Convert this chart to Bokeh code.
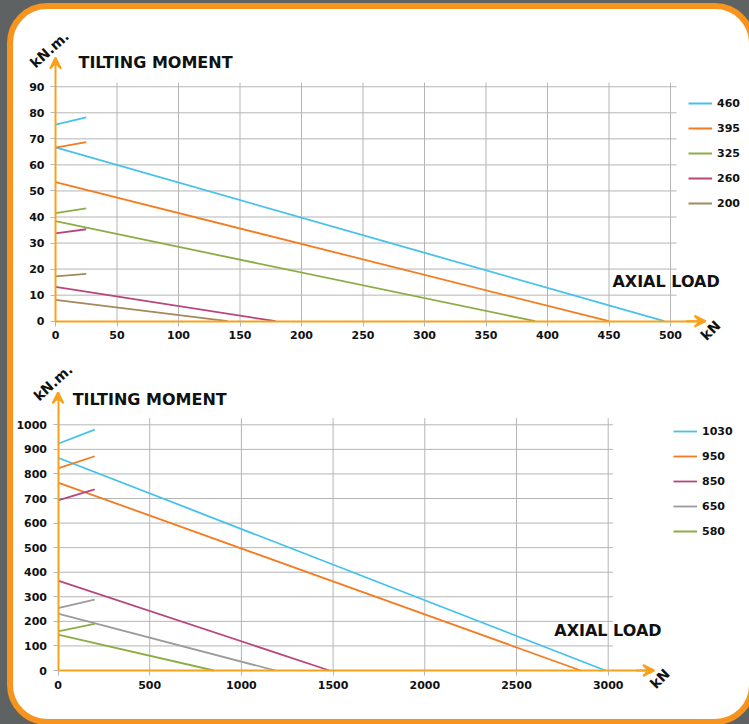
from math import pi
from bokeh.plotting import figure
from bokeh.models import (Range1d, FixedTicker, Label, Arrow, VeeHead, Legend, LegendItem, Spacer)
from bokeh.layouts import column, row
from bokeh.embed import file_html
from bokeh.resources import INLINE

# ---------------- data: upper chart ----------------
top_series = ["460", "395", "325", "260", "200"]
top_upper_x_end = [25, 25, 25, 25, 25]
top_upper_start = [75.5, 66.6, 41.5, 33.7, 17.2]
top_upper_end = [78.2, 68.7, 43.3, 35.3, 18.2]
top_main_start = [66.7, 53.4, 38.4, 13.2, 8.2]
top_main_x_end = [495, 450, 390, 179, 140]
top_xticks = [0, 50, 100, 150, 200, 250, 300, 350, 400, 450, 500]
top_yticks = [0, 10, 20, 30, 40, 50, 60, 70, 80, 90]

# ---------------- data: lower chart ----------------
bot_series = ["1030", "950", "850", "650", "580"]
bot_upper_x_end = [200, 200, 200, 200, 200]
bot_upper_start = [923, 823, 692, 254, 159]
bot_upper_end = [980, 872, 737, 288, 190]
bot_main_start = [866, 765, 366, 231, 146]
bot_main_x_end = [2985, 2850, 1480, 1185, 850]
bot_xticks = [0, 500, 1000, 1500, 2000, 2500, 3000]
bot_yticks = [0, 100, 200, 300, 400, 500, 600, 700, 800, 900, 1000]

# ---------------- styles ----------------
BLUE = "#45C2EC"
ORANGE = "#F47B20"
GREEN = "#8CAD46"
MAGENTA = "#B8467D"
BROWN = "#A3895B"
GREY = "#9B9B9B"
AXIS = "#F7A21B"
GRID = "#B5B5B5"
FRAME = "#F7941D"
BG = "#5E6263"
FONT = "DejaVu Sans"
INK = "#111111"

top_colors = [BLUE, ORANGE, GREEN, MAGENTA, BROWN]
bot_colors = [BLUE, ORANGE, MAGENTA, GREY, GREEN]


def build(cfg, series, colors, up_x, up_y0, up_y1, m_y0, m_x1, xticks, yticks):
    W, H = cfg["w"], cfg["h"]
    ox, oy = cfg["ox"], cfg["oy"]          # pixel position of the data origin
    sx, sy = cfg["sx"], cfg["sy"]          # pixels per data unit
    p = figure(width=W, height=H, output_backend="svg", toolbar_location=None,
               x_range=Range1d(-ox / sx, (W - ox) / sx),
               y_range=Range1d(-(H - oy) / sy, oy / sy),
               min_border=0, min_border_left=0, min_border_right=0,
               min_border_top=0, min_border_bottom=0)
    p.background_fill_alpha = 0
    p.border_fill_alpha = 0
    p.outline_line_color = None
    p.grid.visible = False

    # grid lines (bounded like the original)
    vx = xticks[1:]
    p.segment(x0=vx, x1=vx, y0=[0] * len(vx), y1=[cfg["vtop"]] * len(vx),
              line_color=GRID, line_width=1)
    hy = yticks[1:]
    p.segment(x0=[0] * len(hy), x1=[cfg["hright"]] * len(hy), y0=hy, y1=hy,
              line_color=GRID, line_width=1)

    items = []
    for i, name in enumerate(series):
        r = p.multi_line(xs=[[0, up_x[i]], [0, m_x1[i]]],
                         ys=[[up_y0[i], up_y1[i]], [m_y0[i], 0]],
                         line_color=colors[i], line_width=1.8)
        items.append(LegendItem(label=name, renderers=[r]))

    for ax, ticks, bnd in ((p.xaxis, xticks, (0, cfg["xarrow"])),
                           (p.yaxis, yticks, (0, cfg["yarrow"]))):
        ax.fixed_location = 0
        ax.ticker = FixedTicker(ticks=ticks)
        ax.bounds = bnd
        ax.axis_line_color = AXIS
        ax.axis_line_width = 2
        ax.major_tick_line_color = GRID
        ax.major_tick_out = 5
        ax.major_tick_in = 0
        ax.minor_tick_line_color = None
        ax.major_label_text_font = FONT
        ax.major_label_text_font_style = "bold"
        ax.major_label_text_font_size = "11px"
        ax.major_label_text_color = INK
    p.xaxis.major_label_standoff = 5
    p.yaxis.major_label_standoff = 6

    head_x = VeeHead(size=11, fill_color=AXIS, line_color=AXIS, line_width=2)
    p.add_layout(Arrow(end=head_x, x_start=cfg["xarrow"] * 0.97, y_start=0,
                       x_end=cfg["xarrow"], y_end=0, line_color=AXIS, line_width=2))
    head_y = VeeHead(size=11, fill_color=AXIS, line_color=AXIS, line_width=2)
    p.add_layout(Arrow(end=head_y, x_start=0, y_start=cfg["yarrow"] * 0.97,
                       x_end=0, y_end=cfg["yarrow"], line_color=AXIS, line_width=2))

    p.add_layout(Label(x=cfg["title_xy"][0], y=cfg["title_xy"][1], text="TILTING MOMENT",
                       text_font=FONT, text_font_style="bold", text_font_size="16px",
                       text_align="left", text_baseline="middle", text_color=INK))
    p.add_layout(Label(x=cfg["axial_xy"][0], y=cfg["axial_xy"][1], text="AXIAL LOAD",
                       text_font=FONT, text_font_style="bold", text_font_size="16px",
                       text_align="left", text_baseline="middle", text_color=INK))
    p.add_layout(Label(x=cfg["knm_xy"][0], y=cfg["knm_xy"][1], text="kN.m.",
                       text_font=FONT, text_font_style="bold", text_font_size="14px",
                       text_align="center", text_baseline="middle", angle=pi / 4.3,
                       text_color=INK))
    p.add_layout(Label(x=cfg["kn_xy"][0], y=cfg["kn_xy"][1], text="kN",
                       text_font=FONT, text_font_style="bold", text_font_size="14px",
                       text_align="center", text_baseline="middle", angle=pi / 4,
                       text_color=INK))

    legend = Legend(items=items, location=cfg["legend"], orientation="vertical",
                    glyph_width=24, glyph_height=20, label_height=20, spacing=5,
                    padding=0, margin=0, border_line_color=None, background_fill_alpha=0,
                    label_text_font=FONT, label_text_font_style="bold",
                    label_text_font_size="11px", label_standoff=5,
                    label_text_color=INK)
    p.add_layout(legend)
    return p


# figure pixel geometry (figures sit at page x=13; top one at y=9, bottom one at y=352)
top_cfg = dict(w=736, h=343, ox=42, oy=311.7, sx=1.23, sy=2.605, vtop=91.6, hright=505,
               xarrow=528.5, yarrow=101.2, title_xy=(18.7, 99.3), axial_xy=(452.8, 15.2),
               knm_xy=(-4.9, 104.3), kn_xy=(532.5, -3.5), legend=(675, 139))
bot_cfg = dict(w=736, h=367, ox=44.5, oy=318, sx=0.1834, sy=0.2457, vtop=1027, hright=3026,
               xarrow=3250, yarrow=1132, title_xy=(80, 1101), axial_xy=(2706, 163),
               knm_xy=(-27, 1172), kn_xy=(3282, -32.6), legend=(660, 178))

p1 = build(top_cfg, top_series, top_colors, top_upper_x_end, top_upper_start, top_upper_end,
           top_main_start, top_main_x_end, top_xticks, top_yticks)
p2 = build(bot_cfg, bot_series, bot_colors, bot_upper_x_end, bot_upper_start, bot_upper_end,
           bot_main_start, bot_main_x_end, bot_xticks, bot_yticks)

inner = column(p1, p2, spacing=0,
               styles={"background-color": "#FFFFFF", "border": "6px solid " + FRAME,
                       "border-radius": "40px", "overflow": "hidden"})
page = column(Spacer(width=749, height=3), row(Spacer(width=7, height=10), inner, spacing=0),
              spacing=0, width=749, height=724,
              styles={"background-color": BG, "overflow": "hidden"})

open("out.html", "w").write(file_html(page, INLINE))
